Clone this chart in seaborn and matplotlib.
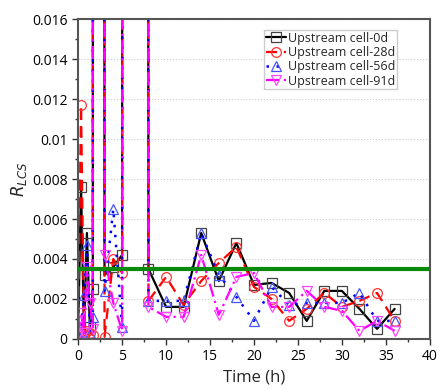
import numpy as np
import pandas as pd
import matplotlib
matplotlib.use('Agg')
import matplotlib.pyplot as plt
import seaborn as sns
from matplotlib.ticker import MultipleLocator

# sampling times (h); the 2 h and 6 h readings are far off the scale
time_h = [0, 0.33, 0.67, 1, 1.33, 1.67, 2, 3, 4, 5, 6, 8, 10, 12, 14, 16, 18,
          20, 22, 24, 26, 28, 30, 32, 34, 36]

cell_0d = [0.0003, 0.0076, 0.0003, 0.0053, 0.0006, 0.0025, 1.0, 0.0032, 0.0036,
           0.0042, 1.0, 0.0035, 0.0016, 0.0016, 0.0053, 0.0029, 0.0048, 0.0027,
           0.0028, 0.0023, 0.0009, 0.0024, 0.0024, 0.0015, 0.0005, 0.0015]
cell_28d = [0.0003, 0.0117, 0.0002, 0.0004, 0.0003, 0.0002, 1.0, 0.0001, 0.0040,
            0.0033, 1.0, 0.0019, 0.0031, 0.0017, 0.0029, 0.0038, 0.0046, 0.0026,
            0.0020, 0.0009, 0.0015, 0.0023, 0.0016, 0.0019, 0.0023, 0.0009]
cell_56d = [0.0002, 0.0004, 0.0022, 0.0047, 0.0003, 0.0011, 1.0, 0.0024, 0.0065,
            0.0006, 1.0, 0.0019, 0.0019, 0.0019, 0.0053, 0.0032, 0.0021, 0.0009,
            0.0026, 0.0017, 0.0018, 0.0018, 0.0018, 0.0023, 0.0009, 0.0009]
cell_91d = [0.0002, 0.0013, 0.0003, 0.0036, 0.0018, 0.0005, 1.0, 0.0042, 0.0018,
            0.0004, 1.0, 0.0016, 0.0011, 0.0011, 0.0042, 0.0012, 0.0031, 0.0033,
            0.0016, 0.0016, 0.0024, 0.0016, 0.0014, 0.0004, 0.0009, 0.0004]
threshold = 0.0035

labels = ['Upstream cell-0d', 'Upstream cell-28d', 'Upstream cell-56d', 'Upstream cell-91d']

sns.set_style('ticks')
plt.rcParams['font.family'] = ['Open Sans', 'DejaVu Sans']

fig = plt.figure(figsize=(4.44, 3.89), dpi=100)
ax = fig.add_axes([0.176, 0.129, 0.792, 0.821])

df = pd.DataFrame({'t': time_h, labels[0]: cell_0d, labels[1]: cell_28d,
                   labels[2]: cell_56d, labels[3]: cell_91d})

styles = [
    ('black', '-', 's', '#444444', 1.6),
    ('red', (0, (5, 3)), 'o', '#ff3333', 1.6),
    ('blue', (0, (1, 3)), '^', '#4455ff', 1.8),
    ('magenta', (0, (6, 2, 1, 2)), 'v', '#ff44ff', 1.6),
]
for lab, (c, ls, mk, mec, lw) in zip(labels, styles):
    sns.lineplot(data=df, x='t', y=lab, ax=ax, color=c, linestyle=ls, lw=lw,
                 marker=mk, markersize=7, markerfacecolor='none',
                 markeredgecolor=mec, markeredgewidth=0.9, label=lab,
                 estimator=None, sort=False)

ax.axhline(threshold, color='#0a8a0a', lw=3, zorder=5)

ax.set_xlim(0, 40)
ax.set_ylim(0, 0.016)
ax.xaxis.set_major_locator(MultipleLocator(5))
ax.xaxis.set_minor_locator(MultipleLocator(2.5))
ax.yaxis.set_minor_locator(MultipleLocator(0.001))
ax.set_yticks([0, 0.002, 0.004, 0.006, 0.008, 0.01, 0.012, 0.014, 0.016])
ax.set_yticklabels(['0', '0.002', '0.004', '0.006', '0.008', '0.01', '0.012', '0.014', '0.016'])
ax.grid(axis='y', which='major', color='#cccccc', ls=':', lw=0.8)
ax.tick_params(which='major', length=4, width=1, labelsize=10, colors='#333333')
ax.tick_params(which='minor', length=2.5, width=1, colors='#333333')
for lab in ax.get_xticklabels() + ax.get_yticklabels():
    lab.set_color('black')
for s in ax.spines.values():
    s.set_color('#555555')
    s.set_linewidth(1.5)

ax.set_xlabel('Time (h)', fontsize=12)
ax.set_ylabel(r'$R_{LCS}$', fontsize=12, labelpad=2)

leg = ax.legend(loc='upper right', bbox_to_anchor=(0.915, 0.975), fontsize=9,
                frameon=True, fancybox=False, edgecolor='#cccccc', framealpha=1,
                handlelength=1.6, handletextpad=0.2, labelspacing=0.1,
                borderpad=0.15, borderaxespad=0.2)
leg.get_frame().set_linewidth(1.0)

fig.savefig('out.png', dpi=100)
